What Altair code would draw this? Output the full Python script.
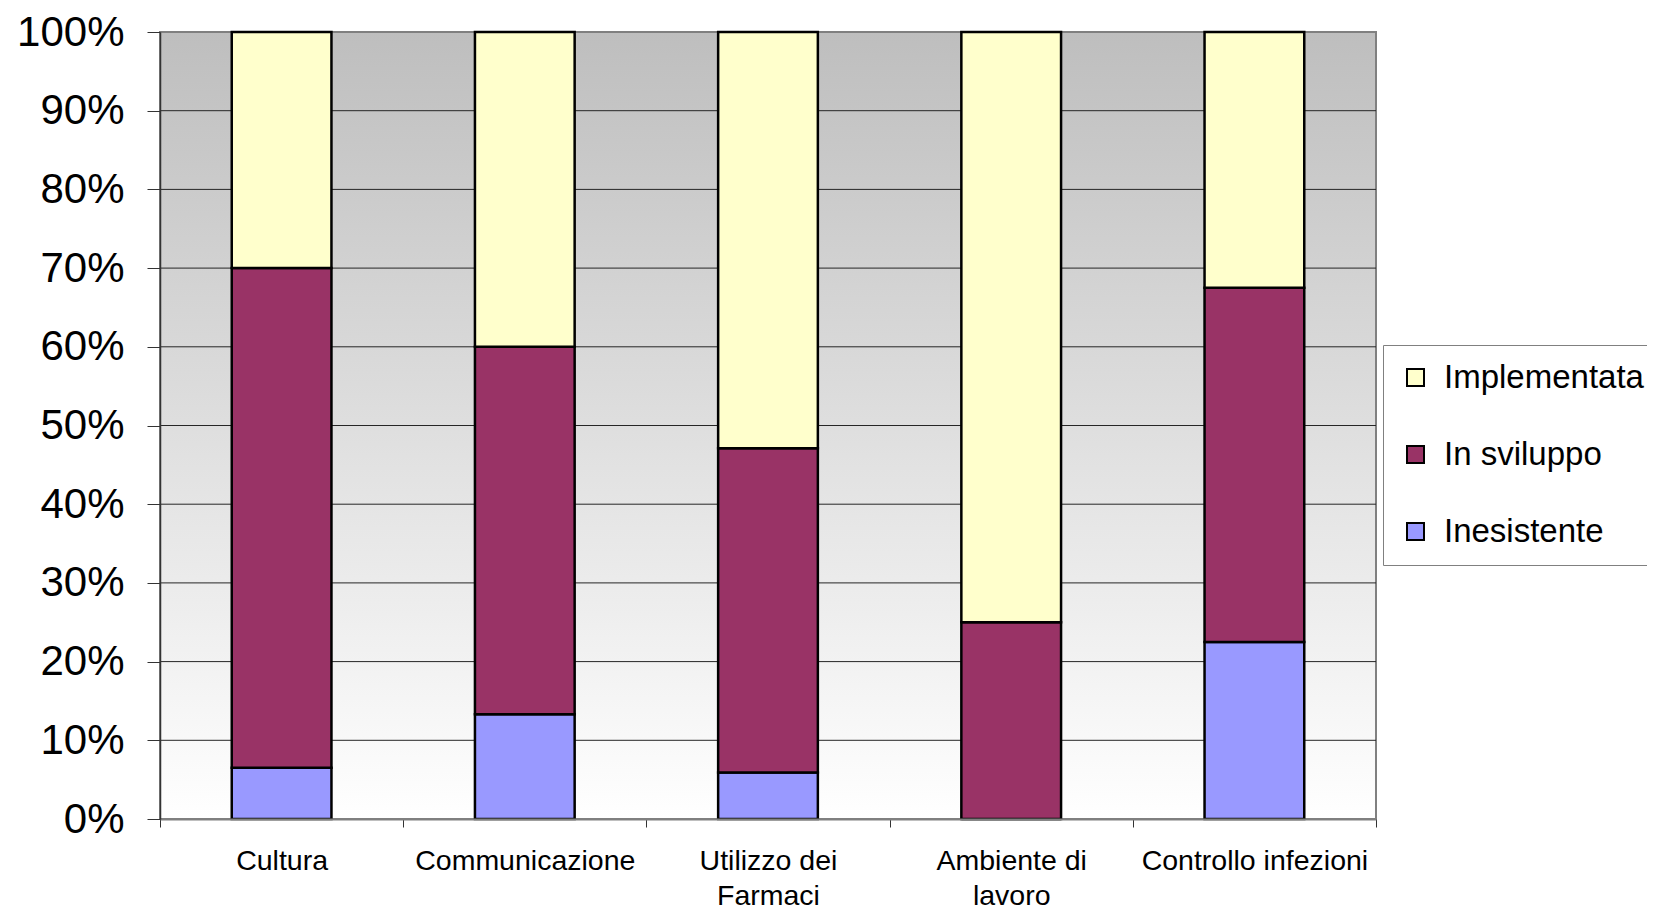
import altair as alt
import pandas as pd

# ---- data ----
categories = ["Cultura", "Communicazione", "Utilizzo dei Farmaci", "Ambiente di lavoro", "Controllo infezioni"]
label_lines = {
    "Utilizzo dei Farmaci": ["Utilizzo dei", "Farmaci"],
    "Ambiente di lavoro": ["Ambiente di", "lavoro"],
}
series = ["Implementata", "In sviluppo", "Inesistente"]
series_colors = ["#FFFFCC", "#993366", "#9999FF"]
inesistente = [6.5, 13.3, 5.9, 0.0, 22.5]
in_sviluppo = [63.5, 46.7, 41.2, 25.0, 45.0]
implementata = [30.0, 40.0, 52.9, 75.0, 32.5]
y_ticks = [0.0, 0.1, 0.2, 0.3, 0.4, 0.5, 0.6, 0.7, 0.8, 0.9, 1.0]
grid_ticks = [0.1, 0.2, 0.3, 0.4, 0.5, 0.6, 0.7, 0.8, 0.9]

rows = []
for i, c in enumerate(categories):
    for s, vals, o in [("Inesistente", inesistente, 0), ("In sviluppo", in_sviluppo, 1), ("Implementata", implementata, 2)]:
        rows.append({"cat": c, "serie": s, "val": vals[i], "ord": o})
df = pd.DataFrame(rows)
grid_df = pd.DataFrame({"t": grid_ticks})

W, H = 1216, 787
FONT = "Liberation Sans, Arial, Helvetica, sans-serif"

expr = "datum.label"
for k, v in label_lines.items():
    expr = f"datum.label == '{k}' ? ['{v[0]}', '{v[1]}'] : (" + expr + ")"

y_axis = alt.Axis(
    title=None, values=y_ticks, format=".0%", labelFont=FONT, labelFontSize=42,
    labelColor="black", tickSize=13, tickColor="#333333", labelPadding=23,
    domainColor="#333333", domainWidth=1.5, grid=False, zindex=1,
)
y_scale = alt.Scale(domain=[0, 1])

bg = alt.Chart(alt.Data(values=[{}])).mark_rect(
    color=alt.LinearGradient(
        gradient="linear", x1=0, x2=0, y1=0, y2=1,
        stops=[alt.GradientStop(offset=0, color="#BEBEBE"),
               alt.GradientStop(offset=1, color="#FFFFFF")],
    ),
    stroke="#808080",
    strokeWidth=2,
).encode(x=alt.value(0), x2=alt.value(W), y=alt.value(0), y2=alt.value(H))

grid = alt.Chart(grid_df).mark_rule(color="#262626", strokeWidth=1).encode(
    y=alt.Y("t:Q", scale=y_scale, axis=y_axis),
    x=alt.value(0),
    x2=alt.value(W),
)

bars = alt.Chart(df).mark_bar(
    width=alt.RelativeBandSize(0.41), stroke="black", strokeWidth=2.5, opacity=1
).encode(
    x=alt.X(
        "cat:N",
        sort=categories,
        scale=alt.Scale(paddingInner=0, paddingOuter=0),
        axis=alt.Axis(
            title=None, labelAngle=0, tickBand="extent", tickSize=8, tickColor="#333333",
            domainColor="#808080", domainWidth=2, labelFont=FONT, labelFontSize=28.5,
            labelColor="black", labelBaseline="alphabetic", labelPadding=42,
            labelLineHeight=35, labelExpr=expr, grid=False, zindex=1, labelLimit=400,
        ),
    ),
    y=alt.Y("val:Q", stack="normalize", scale=y_scale, axis=y_axis),
    color=alt.Color(
        "serie:N",
        scale=alt.Scale(domain=series, range=series_colors),
        legend=alt.Legend(
            title=None, orient="none", legendX=1223, legendY=313, direction="vertical",
            symbolType="square", symbolSize=289, symbolStrokeColor="black",
            symbolStrokeWidth=2, symbolOpacity=1, labelFont=FONT, labelFontSize=33,
            labelColor="black", labelOffset=12, rowPadding=43, padding=16,
            strokeColor="#808080", fillColor="white", labelLimit=400,
        ),
    ),
    order=alt.Order("ord:Q", sort="ascending"),
)

chart = alt.layer(bg, grid, bars).properties(
    width=W,
    height=H,
    padding={"left": 152, "top": 24, "right": 271, "bottom": 92},
    autosize=alt.AutoSizeParams(type="none"),
).configure_view(strokeWidth=0)

chart.save("out.html", embed_options={"renderer": "svg", "actions": False})
